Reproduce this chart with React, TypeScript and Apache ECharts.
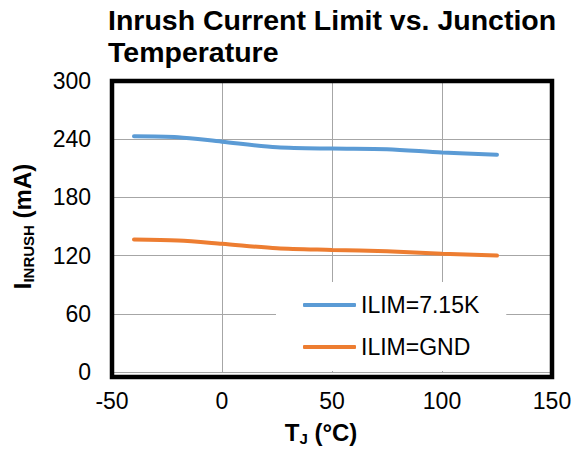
import React, { useEffect, useRef } from "react";
import * as echarts from "echarts";

const temps = [-40, -20, 0, 25, 50, 75, 100, 125];
const ilim715k = [243.1, 242.1, 237.4, 231.7, 230.3, 229.7, 226.3, 224];
const ilimGnd = [136.6, 135.6, 132.2, 127.5, 125.8, 124.4, 122, 120];
const seriesNames = ["ILIM=7.15K", "ILIM=GND"];
const xTicks = { min: -50, max: 150, interval: 50 };
const yTicks = { min: 0, max: 300, interval: 60 };

const FONT = "'Liberation Sans', Arial, sans-serif";
const G = { left: 112, right: 26, top: 81, bottom: 74 };
const W = 578;
const H = 451;

export default function App() {
  const ref = useRef<HTMLDivElement>(null);
  useEffect(() => {
    if (!ref.current) return;
    const chart = echarts.init(ref.current, null, { renderer: "svg" });
    const subRich = {
      main: { fontSize: 24, fontWeight: "bold", lineHeight: 28, color: "#000", fontFamily: FONT },
      sub: { fontSize: 15, fontWeight: "bold", lineHeight: 12, verticalAlign: "bottom", color: "#000", fontFamily: FONT },
    };
    chart.setOption({
      animation: false,
      backgroundColor: "#fff",
      textStyle: { fontFamily: FONT },
      title: {
        text: "Inrush Current Limit vs. Junction\nTemperature",
        left: 108,
        top: 4,
        padding: 0,
        textStyle: { fontSize: 28.5, fontWeight: "bold", lineHeight: 32, color: "#000", fontFamily: FONT },
      },
      grid: { left: G.left, right: G.right, top: G.top, bottom: G.bottom, containLabel: false },
      legend: {
        orient: "vertical",
        left: 276,
        top: 282,
        padding: [11, 27, 12, 27],
        backgroundColor: "#fff",
        itemWidth: 53,
        itemHeight: 4,
        itemGap: 18,
        icon: "roundRect",
        data: seriesNames,
        textStyle: { fontSize: 23, lineHeight: 24, color: "#000", fontFamily: FONT, padding: [0, 0, 0, 0] },
      },
      xAxis: {
        type: "value",
        min: xTicks.min,
        max: xTicks.max,
        interval: xTicks.interval,
        axisLine: { show: false },
        axisTick: { show: false },
        axisLabel: { fontSize: 23, color: "#000", margin: 17, fontFamily: FONT },
        splitLine: { show: true, lineStyle: { color: "#a6a6a6", width: 1 } },
        name: "{main|T}{sub|J}{main| (°C)}",
        nameLocation: "middle",
        nameGap: 46,
        nameTextStyle: { padding: [0, 22, 0, 0], rich: subRich },
      },
      yAxis: {
        type: "value",
        min: yTicks.min,
        max: yTicks.max,
        interval: yTicks.interval,
        axisLine: { show: false },
        axisTick: { show: false },
        axisLabel: { fontSize: 23, color: "#000", margin: 21, fontFamily: FONT },
        splitLine: { show: true, lineStyle: { color: "#a6a6a6", width: 1 } },
        name: "{main|I}{sub|INRUSH}{main| (mA)}",
        nameLocation: "middle",
        nameRotate: 90,
        nameGap: 76,
        nameTextStyle: { rich: subRich },
      },
      series: [
        {
          name: seriesNames[0],
          type: "line",
          data: temps.map((t, i) => [t, ilim715k[i]]),
          smooth: 0.3,
          showSymbol: false,
          lineStyle: { color: "#5B9BD5", width: 4, cap: "round" },
          itemStyle: { color: "#5B9BD5" },
        },
        {
          name: seriesNames[1],
          type: "line",
          data: temps.map((t, i) => [t, ilimGnd[i]]),
          smooth: 0.3,
          showSymbol: false,
          lineStyle: { color: "#ED7D31", width: 4, cap: "round" },
          itemStyle: { color: "#ED7D31" },
        },
      ],
      graphic: [
        {
          type: "rect",
          z: 100,
          silent: true,
          shape: { x: G.left, y: G.top, width: W - G.left - G.right, height: H - G.top - G.bottom },
          style: { fill: "none", stroke: "#000", lineWidth: 4.5 },
        },
      ],
    });
    return () => chart.dispose();
  }, []);
  return <div ref={ref} style={{ position: "fixed", left: 0, top: 0, width: W, height: H }} />;
}
